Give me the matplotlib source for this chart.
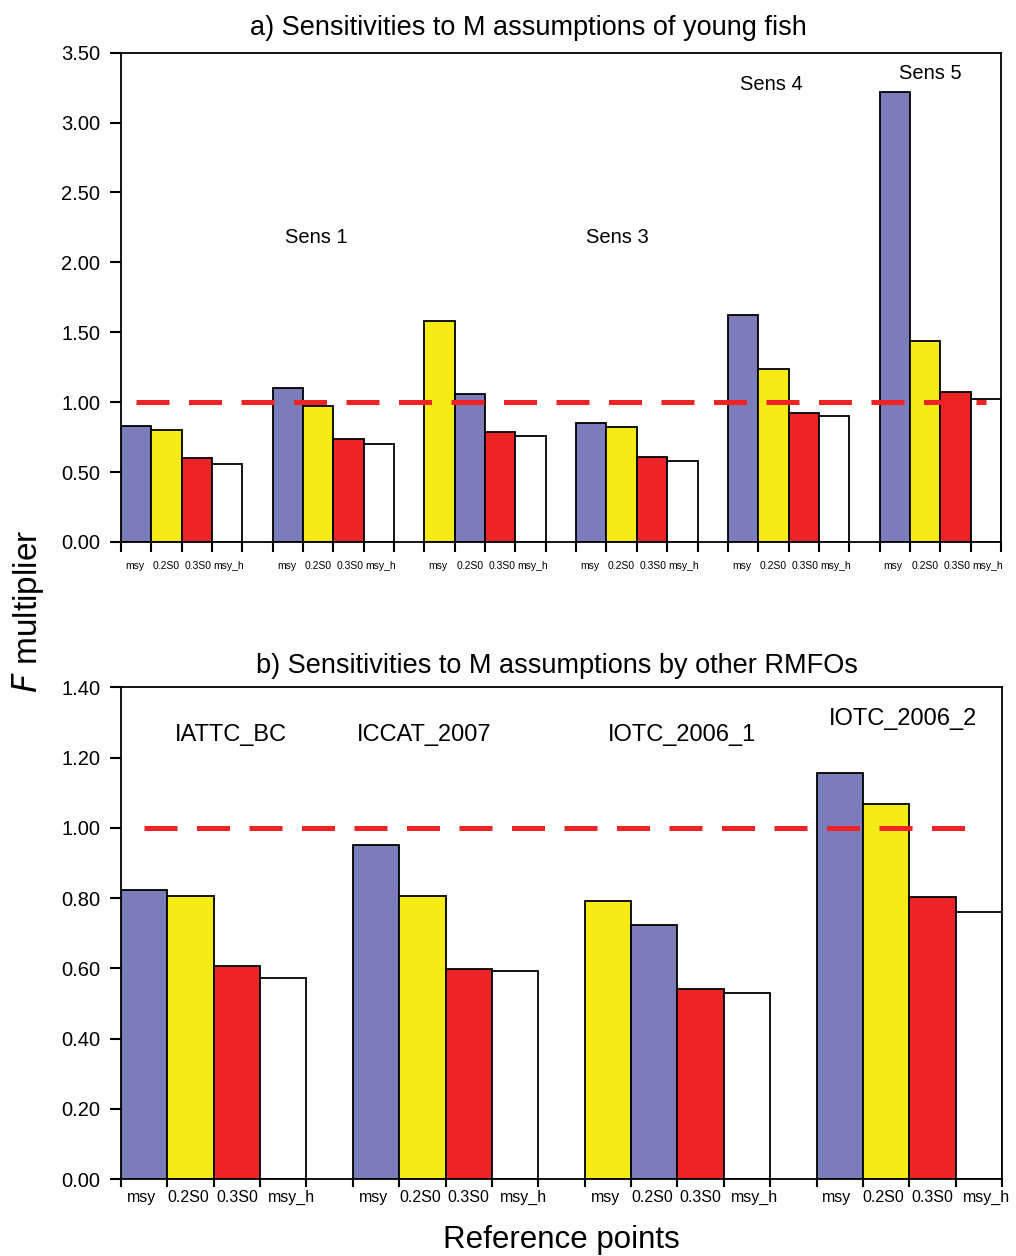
import matplotlib
matplotlib.use("Agg")
import matplotlib.pyplot as plt
import numpy as np

plt.rcParams["font.family"] = ["Liberation Sans", "DejaVu Sans"]

refs = ["msy", "0.2S0", "0.3S0", "msy_h"]
BLUE, YELLOW, RED, WHITE = "#7B7DBA", "#F5EB17", "#EE2326", "#FFFFFF"

# panel a: bar heights in drawn order within each group
a_bar1 = [0.83, 1.10, 1.58, 0.85, 1.62, 3.22]
a_bar2 = [0.80, 0.97, 1.06, 0.82, 1.24, 1.44]
a_bar3 = [0.60, 0.74, 0.79, 0.61, 0.92, 1.07]
a_bar4 = [0.56, 0.70, 0.76, 0.58, 0.90, 1.02]
a_swap = [False, False, True, False, False, False]  # yellow drawn first
a_labels = ["Sens 1", "Sens 3", "Sens 4", "Sens 5"]
a_label_x = [5.93, 15.85, 20.92, 26.16]
a_label_y = [2.18, 2.18, 3.27, 3.35]

# panel b
b_bar1 = [0.823, 0.952, 0.791, 1.155]
b_bar2 = [0.805, 0.805, 0.722, 1.068]
b_bar3 = [0.607, 0.597, 0.542, 0.804]
b_bar4 = [0.571, 0.593, 0.529, 0.759]
b_swap = [False, False, True, False]
b_labels = ["IATTC_BC", "ICCAT_2007", "IOTC_2006_1", "IOTC_2006_2"]
b_label_x = [1.87, 6.03, 11.6, 16.36]
b_label_y = [1.265, 1.265, 1.265, 1.31]


def panel(ax, bars, swap, ymax, yticks, title, title_x, names, nx, ny,
          lab_size, lab_pad, lab_shift, xtick_len, name_size, title_pad):
    ngrp = len(bars[0])
    for g in range(ngrp):
        cols = [BLUE, YELLOW, RED, WHITE]
        if swap[g]:
            cols = [YELLOW, BLUE, RED, WHITE]
        for k in range(4):
            ax.bar(g * 5 + k, bars[k][g], width=1.0, color=cols[k],
                   edgecolor="black", linewidth=1.3, zorder=2)
    nslot = ngrp * 5 - 1
    ax.set_xlim(-0.5, nslot - 0.5)
    ax.set_ylim(0, ymax)
    ax.plot([0, nslot - 1], [1, 1], color=RED, lw=3.6,
            dashes=(6.6, 3.9), zorder=3)

    edges = [g * 5 + k - 0.5 for g in range(ngrp) for k in range(5)]
    centers = [g * 5 + k + lab_shift[k] for g in range(ngrp) for k in range(4)]
    ax.set_xticks(edges)
    ax.set_xticklabels([])
    ax.set_xticks(centers, minor=True)
    ax.set_xticklabels(refs * ngrp, minor=True, fontsize=lab_size)
    ax.tick_params(axis="x", which="major", direction="out",
                   length=xtick_len, width=1.5)
    ax.tick_params(axis="x", which="minor", length=0, pad=lab_pad)

    ax.set_yticks(yticks)
    ax.set_yticklabels(["%.2f" % v for v in yticks], fontsize=14.5)
    ax.tick_params(axis="y", direction="out", length=8, width=1.5, pad=7)
    for s in ax.spines.values():
        s.set_linewidth(1.3)
    ax.set_title(title, fontsize=19.5, pad=title_pad, x=title_x)

    for t, x, y in zip(names, nx, ny):
        ax.text(x, y, t, ha="center", va="center", fontsize=name_size)


fig = plt.figure(figsize=(10.16, 12.56), dpi=100)
ax1 = fig.add_axes([0.1191, 0.5685, 0.8661, 0.3896])
ax2 = fig.add_axes([0.1191, 0.0613, 0.8671, 0.3915])

panel(ax1, [a_bar1, a_bar2, a_bar3, a_bar4], a_swap, 3.5,
      np.arange(0, 3.51, 0.5), "a) Sensitivities to M assumptions of young fish",
      0.4625, a_labels, a_label_x, a_label_y, 7.5, 14, [-0.05, 0, 0.05, 0.05],
      7, 14.5, 13)
panel(ax2, [b_bar1, b_bar2, b_bar3, b_bar4], b_swap, 1.4,
      np.arange(0, 1.41, 0.2), "b) Sensitivities to M assumptions by other RMFOs",
      0.495, b_labels, b_label_x, b_label_y, 11.5, 8, [-0.06, -0.05, 0, 0.17],
      6, 17, 10)

fig.text(0.028, 0.5135, "$\\mathit{F}$ multiplier", rotation=90,
         ha="center", va="center", fontsize=24)
fig.text(0.553, 0.0125, "Reference points", ha="center", va="center",
         fontsize=22.5)

fig.savefig("out.png", dpi=100)
